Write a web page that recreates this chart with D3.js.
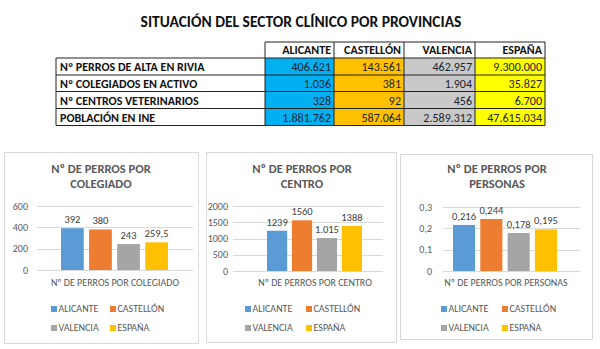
<!DOCTYPE html>
<html>
<head>
<meta charset="utf-8">
<script src="https://cdn.jsdelivr.net/npm/d3@7"></script>
<style>
  body { margin: 0; background: #fff; }
  svg { display: block; font-family: Carlito, Lato, "Open Sans", sans-serif; }
</style>
</head>
<body>
<div id="svg-holder"></div>
<script>
var width = 600;
var height = 349;

// table data
var provinces = ["ALICANTE", "CASTELLÓN", "VALENCIA", "ESPAÑA"];
var rowLabels = ["Nº PERROS DE ALTA EN RIVIA", "Nº COLEGIADOS EN ACTIVO", "Nº CENTROS VETERINARIOS", "POBLACIÓN EN INE"];
var perros = [406621, 143561, 462957, 9300000];
var colegiados = [1036, 381, 1904, 35827];
var centros = [328, 92, 456, 6700];
var poblacion = [1881762, 587064, 2589312, 47615034];

// chart data
var porColegiado = [392, 380, 243, 259.5];
var porColegiadoLabels = ["392", "380", "243", "259,5"];
var porCentro = [1239, 1560, 1015, 1388];
var porCentroLabels = ["1239", "1560", "1.015", "1388"];
var porPersona = [0.216, 0.244, 0.178, 0.195];
var porPersonaLabels = ["0,216", "0,244", "0,178", "0,195"];

var ticksColegiado = [0, 200, 400, 600];
var ticksCentro = [0, 500, 1000, 1500, 2000];
var ticksPersona = [0, 0.1, 0.2, 0.3];

var cellFill = ["#00b0f0", "#ffc000", "#c9c9c9", "#ffff00"];
var barFill = ["#5b9bd5", "#ed7d31", "#a5a5a5", "#ffc000"];

var es = d3.formatLocale({decimal: ",", thousands: ".", grouping: [3], currency: ["", " €"]});
var fmtInt = es.format(",d");
var fmtTick = es.format("~g");

var svg = d3.select('#svg-holder').append('svg')
            .attr("width", width)
            .attr("height", height);

svg.append("text")
    .attr("x", 301)
    .attr("y", 27)
    .attr("text-anchor", "middle")
    .attr("font-size", 15.5)
    .attr("font-weight", "bold")
    .attr("fill", "#111")
    .text("SITUACIÓN DEL SECTOR CLÍNICO POR PROVINCIAS");

drawTable();

drawChart({x: 4, y: 152, w: 194, h: 191, title: ["Nº DE PERROS POR", "COLEGIADO"], cat: "Nº DE PERROS POR COLEGIADO",
    values: porColegiado, labels: porColegiadoLabels, ticks: ticksColegiado,
    tickX: 28, gx: [37, 193], bars: [61, 168], yr: [270, 206], titleX: 101, catX: 115,
    legX: [51, 110]});
drawChart({x: 206, y: 152, w: 190, h: 190, title: ["Nº DE PERROS POR", "CENTRO"], cat: "Nº DE PERROS POR CENTRO",
    values: porCentro, labels: porCentroLabels, ticks: ticksCentro,
    tickX: 228, gx: [233, 383], bars: [267, 362], yr: [271, 206], titleX: 302, catX: 315,
    legX: [245, 306]});
drawChart({x: 400, y: 154, w: 192, h: 185, title: ["Nº DE PERROS POR", "PERSONAS"], cat: "Nº DE PERROS POR PERSONAS",
    values: porPersona, labels: porPersonaLabels, ticks: ticksPersona,
    tickX: 432, gx: [443, 580], bars: [453, 557], yr: [271, 207], titleX: 497, catX: 506,
    legX: [441, 502]});

function drawTable() {
    var rows = [perros, colegiados, centros, poblacion];
    var colEdges = [265, 334, 404, 475, 545];
    var rowEdges = [42, 58, 75, 91.5, 108.5, 125.5];
    var left = 56;
    var g = svg.append("g");

    // coloured value cells
    rows.forEach(function(r, i) {
        g.selectAll(null)
            .data(r)
            .enter().append("rect")
            .attr("x", function(d, j) { return colEdges[j]; })
            .attr("y", rowEdges[i + 1])
            .attr("width", function(d, j) { return colEdges[j + 1] - colEdges[j]; })
            .attr("height", rowEdges[i + 2] - rowEdges[i + 1])
            .attr("fill", function(d, j) { return cellFill[j]; });

        g.selectAll(null)
            .data(r)
            .enter().append("text")
            .attr("x", function(d, j) { return colEdges[j + 1] - 3; })
            .attr("y", rowEdges[i + 2] - 4)
            .attr("text-anchor", "end")
            .attr("font-size", 12)
            .attr("fill", "#1c2333")
            .text(function(d) { return fmtInt(d); });
    });

    // headers
    g.selectAll(null)
        .data(provinces)
        .enter().append("text")
        .attr("x", function(d, j) { return colEdges[j + 1] - 3; })
        .attr("y", rowEdges[1] - 4)
        .attr("text-anchor", "end")
        .attr("font-size", 12)
        .attr("font-weight", "bold")
        .attr("fill", "#111")
        .text(function(d) { return d; });

    g.selectAll(null)
        .data(rowLabels)
        .enter().append("text")
        .attr("x", left + 4)
        .attr("y", function(d, i) { return rowEdges[i + 2] - 4; })
        .attr("font-size", 12)
        .attr("font-weight", "bold")
        .attr("fill", "#111")
        .text(function(d) { return d; });

    // grid lines
    var line = g.append("g").attr("stroke", "#222").attr("stroke-width", 1);
    rowEdges.forEach(function(y, i) {
        line.append("line")
            .attr("x1", i == 0 ? colEdges[0] : left)
            .attr("x2", colEdges[4])
            .attr("y1", y).attr("y2", y);
    });
    colEdges.forEach(function(x) {
        line.append("line")
            .attr("x1", x).attr("x2", x)
            .attr("y1", rowEdges[0]).attr("y2", rowEdges[5]);
    });
    line.append("line")
        .attr("x1", left).attr("x2", left)
        .attr("y1", rowEdges[1]).attr("y2", rowEdges[5]);
}

function drawChart(c) {
    var g = svg.append("g");

    g.append("rect")
        .attr("x", c.x + 0.5).attr("y", c.y + 0.5)
        .attr("width", c.w).attr("height", c.h)
        .attr("fill", "#fff")
        .attr("stroke", "#d9d9d9");

    g.selectAll(null)
        .data(c.title)
        .enter().append("text")
        .attr("x", c.titleX)
        .attr("y", function(d, i) { return 173 + i * 15; })
        .attr("text-anchor", "middle")
        .attr("font-size", 12.5)
        .attr("font-weight", "bold")
        .attr("fill", "#595959")
        .text(function(d) { return d; });

    var y = d3.scaleLinear()
        .domain([0, d3.max(c.ticks)])
        .range(c.yr);

    var x = d3.scaleBand()
        .domain(provinces)
        .range(c.bars)
        .paddingInner(0.19)
        .paddingOuter(0);

    // horizontal gridlines
    g.selectAll(null)
        .data(c.ticks)
        .enter().append("line")
        .attr("x1", c.gx[0]).attr("x2", c.gx[1])
        .attr("y1", function(d) { return Math.round(y(d)) + 0.5; })
        .attr("y2", function(d) { return Math.round(y(d)) + 0.5; })
        .attr("stroke", "#d9d9d9");

    g.selectAll(null)
        .data(c.ticks)
        .enter().append("text")
        .attr("x", c.tickX)
        .attr("y", function(d) { return y(d) + 3.5; })
        .attr("text-anchor", "end")
        .attr("font-size", 10)
        .attr("fill", "#595959")
        .text(function(d) { return fmtTick(d); });

    g.selectAll(null)
        .data(c.values)
        .enter().append("rect")
        .attr("x", function(d, i) { return x(provinces[i]); })
        .attr("y", function(d) { return y(d); })
        .attr("width", x.bandwidth())
        .attr("height", function(d) { return y(0) - y(d); })
        .attr("fill", function(d, i) { return barFill[i]; });

    g.selectAll(null)
        .data(c.values)
        .enter().append("text")
        .attr("x", function(d, i) { return x(provinces[i]) + x.bandwidth() / 2; })
        .attr("y", function(d) { return y(d) - 5; })
        .attr("text-anchor", "middle")
        .attr("font-size", 10.5)
        .attr("fill", "#404040")
        .text(function(d, i) { return c.labels[i]; });

    g.append("text")
        .attr("x", c.catX)
        .attr("y", 286)
        .attr("text-anchor", "middle")
        .attr("font-size", 10)
        .attr("fill", "#595959")
        .text(c.cat);

    // legend, two by two
    var leg = g.selectAll(null)
        .data(provinces)
        .enter().append("g")
        .attr("transform", function(d, i) {
            return "translate(" + c.legX[i % 2] + "," + (306 + Math.floor(i / 2) * 19) + ")";
        });
    leg.append("rect")
        .attr("width", 6).attr("height", 6)
        .attr("fill", function(d, i) { return barFill[i]; });
    leg.append("text")
        .attr("x", 7.5)
        .attr("y", 6)
        .attr("font-size", 10)
        .attr("fill", "#595959")
        .text(function(d) { return d; });
}
</script>
</body>
</html>
